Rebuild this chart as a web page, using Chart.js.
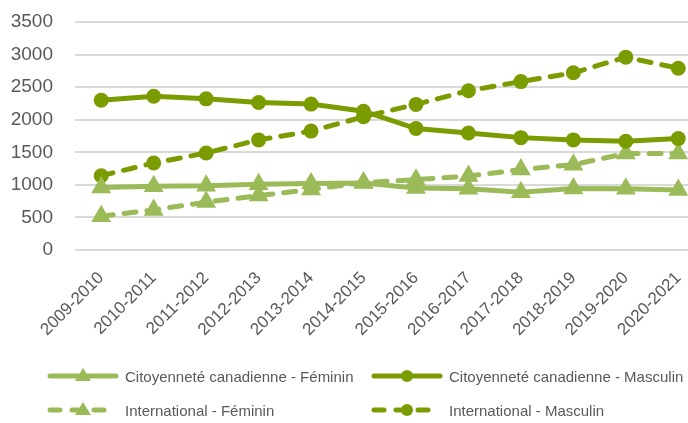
<!DOCTYPE html>
<html>
<head>
<meta charset="utf-8">
<script src="https://cdn.jsdelivr.net/npm/chart.js"></script>
<style>
    body { margin: 0; background: #fff; overflow: hidden; width: 688px; height: 423px; font-family: 'Liberation Sans', Arial, sans-serif; }
    .wrap { position: absolute; left: 0; top: 0; width: 716px; height: 350px; }
    .legend { position: absolute; left: 0; top: 0; width: 688px; height: 423px; pointer-events: none; }
    .item { position: absolute; display: flex; align-items: center; font-size: 15px; color: #595959; white-space: nowrap; }
    .item svg { margin-right: 6px; }
</style>
</head>
<body>
<div class="wrap"><canvas id="chart" width="716" height="350"></canvas></div>
<div class="legend" id="legend"></div>
<script>
// data
const years = ['2009-2010', '2010-2011', '2011-2012', '2012-2013', '2013-2014', '2014-2015',
               '2015-2016', '2016-2017', '2017-2018', '2018-2019', '2019-2020', '2020-2021'];
const citFeminin   = [960, 980, 985, 1010, 1020, 1030, 950, 940, 885, 945, 940, 920];
const citMasculin  = [2300, 2360, 2320, 2265, 2240, 2130, 1865, 1795, 1725, 1690, 1670, 1710];
const intFeminin   = [520, 615, 735, 835, 930, 1035, 1080, 1135, 1235, 1310, 1480, 1480];
const intMasculin  = [1140, 1335, 1490, 1690, 1825, 2045, 2235, 2445, 2585, 2720, 2960, 2790];
const yTicks = [0, 500, 1000, 1500, 2000, 2500, 3000, 3500];

const light = '#9bbb59';
const dark = '#7a9c00';

function ds(label, data, color, style, radius, dashed) {
    return {
        label: label,
        data: data,
        borderColor: color,
        backgroundColor: color,
        borderWidth: 5,
        borderDash: dashed ? [12, 11] : [],
        borderCapStyle: 'round',
        pointStyle: style,
        pointRadius: radius,
        pointHoverRadius: radius,
        pointBorderWidth: 0,
        tension: 0
    };
}

const series = [
    ds('Citoyenneté canadienne - Féminin', citFeminin, light, 'triangle', 11.5, false),
    ds('Citoyenneté canadienne - Masculin', citMasculin, dark, 'circle', 7.5, false),
    ds('International - Féminin', intFeminin, light, 'triangle', 11.5, true),
    ds('International - Masculin', intMasculin, dark, 'circle', 7.5, true)
];

new Chart(document.getElementById('chart'), {
    type: 'line',
    data: { labels: years, datasets: series },
    options: {
        responsive: false,
        animation: false,
        layout: { padding: 0 },
        plugins: { legend: { display: false }, tooltip: { enabled: false } },
        scales: {
            x: {
                offset: true,
                grid: { display: false },
                border: { display: false },
                ticks: {
                    autoSkip: false, minRotation: 45, maxRotation: 45,
                    color: '#595959', font: { family: "'Liberation Sans', Arial", size: 17 }, padding: 10
                },
                afterFit: s => { s.height = 100; }
            },
            y: {
                min: 0, max: 3500,
                afterBuildTicks: s => { s.ticks = yTicks.map(v => ({ value: v })); },
                grid: { color: '#d9d9d9', lineWidth: 2, drawTicks: false },
                border: { display: false },
                ticks: {
                    color: '#595959', font: { family: "'Liberation Sans', Arial", size: 19 }, padding: 22,
                    callback: v => String(v)
                },
                afterFit: s => { s.width = 75; s.paddingTop = 22; }
            }
        }
    }
});

// legend laid out in two columns like the original
const legendPos = [[47, 376], [371, 376], [47, 410], [371, 410]];
const legendEl = document.getElementById('legend');
series.forEach((d, i) => {
    const [x, y] = legendPos[i];
    const dashed = d.borderDash.length > 0;
    const line = dashed
        ? '<line x1="3" y1="10" x2="69" y2="10" stroke="' + d.borderColor + '" stroke-width="5" stroke-linecap="round" stroke-dasharray="10 12"/>'
        : '<line x1="3" y1="10" x2="69" y2="10" stroke="' + d.borderColor + '" stroke-width="5" stroke-linecap="round"/>';
    const mark = d.pointStyle === 'circle'
        ? '<circle cx="36" cy="10" r="6" fill="' + d.borderColor + '"/>'
        : '<polygon points="36,2 44,15 28,15" fill="' + d.borderColor + '"/>';
    const div = document.createElement('div');
    div.className = 'item';
    div.style.left = x + 'px';
    div.style.top = (y - 10) + 'px';
    div.innerHTML = '<svg width="72" height="20">' + line + mark + '</svg><span>' + d.label + '</span>';
    legendEl.appendChild(div);
});
</script>
</body>
</html>
